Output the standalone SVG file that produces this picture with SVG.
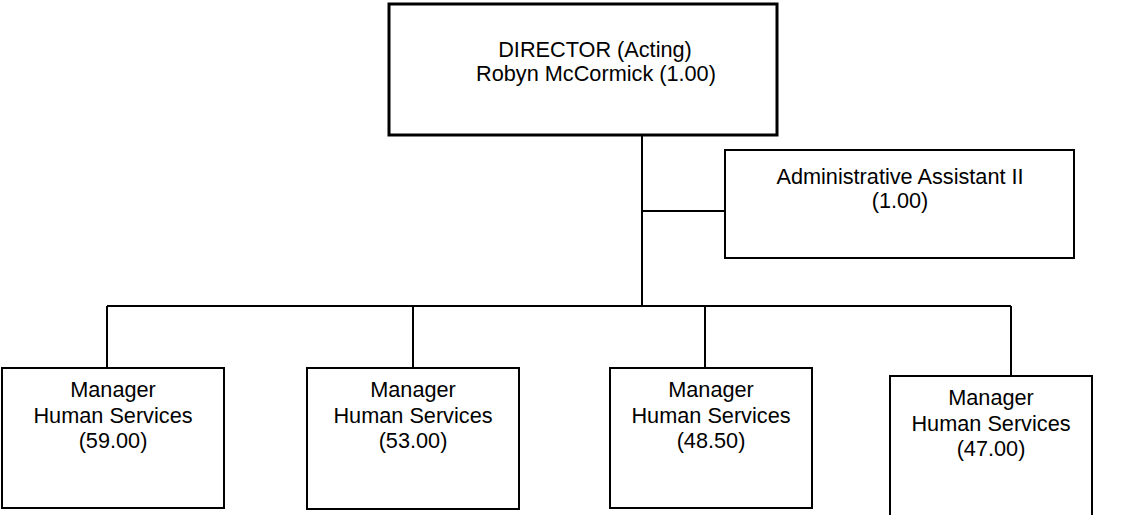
<svg xmlns="http://www.w3.org/2000/svg" width="1144" height="515" viewBox="0 0 1144 515">
<style>
.box{fill:#fff;stroke:#000;stroke-width:2}
.dir{fill:#fff;stroke:#000;stroke-width:3}
.t{font-family:"Liberation Sans",Arial,sans-serif;font-size:21.7px;fill:#000;text-anchor:middle}
.c{fill:none;stroke:#000;stroke-width:2}
</style>
<rect width="1144" height="515" fill="#fff"/>
<g id="connectors">
<line class="c" x1="642" y1="135" x2="642" y2="306"/>
<line class="c" x1="642" y1="211" x2="725" y2="211"/>
<line class="c" x1="107" y1="306" x2="1011" y2="306"/>
<line class="c" x1="107" y1="306" x2="107" y2="368"/>
<line class="c" x1="413" y1="306" x2="413" y2="368"/>
<line class="c" x1="705" y1="306" x2="705" y2="368"/>
<line class="c" x1="1011" y1="306" x2="1011" y2="376"/>
</g>
<g id="director">
<rect class="dir" x="389" y="4" width="388" height="131"/>
<text class="t" x="595" y="57">DIRECTOR (Acting)</text>
<text class="t" x="596" y="81">Robyn McCormick (1.00)</text>
</g>
<g id="admin">
<rect class="box" x="725" y="150" width="349" height="108"/>
<text class="t" x="900" y="184">Administrative Assistant II</text>
<text class="t" x="900" y="208">(1.00)</text>
</g>
<g id="mgr1">
<rect class="box" x="2" y="368" width="222" height="140"/>
<text class="t" x="113" y="397">Manager</text>
<text class="t" x="113" y="423">Human Services</text>
<text class="t" x="113" y="448">(59.00)</text>
</g>
<g id="mgr2">
<rect class="box" x="307" y="368" width="212" height="141"/>
<text class="t" x="413" y="397">Manager</text>
<text class="t" x="413" y="423">Human Services</text>
<text class="t" x="413" y="448">(53.00)</text>
</g>
<g id="mgr3">
<rect class="box" x="610" y="368" width="202" height="140"/>
<text class="t" x="711" y="397">Manager</text>
<text class="t" x="711" y="423">Human Services</text>
<text class="t" x="711" y="448">(48.50)</text>
</g>
<g id="mgr4">
<rect class="box" x="890" y="376" width="202" height="150"/>
<text class="t" x="991" y="405">Manager</text>
<text class="t" x="991" y="431">Human Services</text>
<text class="t" x="991" y="456">(47.00)</text>
</g>
</svg>
